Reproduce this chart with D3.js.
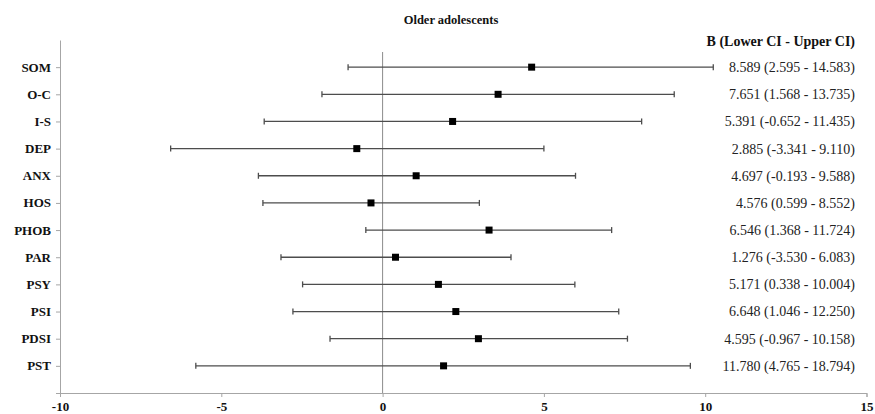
<!DOCTYPE html>
<html><head><meta charset="utf-8">
<script src="https://cdn.jsdelivr.net/npm/d3@7"></script>
<style>body{margin:0;background:#fff}svg{display:block}text{font-family:"Liberation Serif","Times New Roman",serif}</style>
</head><body><svg id="c" width="875" height="414"></svg>
<script>
const title = "Older adolescents";
const tableHeader = "B (Lower CI - Upper CI)";
const categories = ["SOM","O-C","I-S","DEP","ANX","HOS","PHOB","PAR","PSY","PSI","PDSI","PST"];
const estimates = [4.62, 3.58, 2.17, -0.80, 1.04, -0.36, 3.30, 0.40, 1.73, 2.27, 2.97, 1.89];
const lowerCI = [-1.07, -1.88, -3.67, -6.57, -3.85, -3.71, -0.52, -3.15, -2.48, -2.78, -1.63, -5.79];
const upperCI = [10.25, 9.04, 8.03, 5.00, 5.98, 3.00, 7.10, 3.98, 5.96, 7.32, 7.59, 9.54];
const tableText = ["8.589 (2.595 - 14.583)","7.651 (1.568 - 13.735)","5.391 (-0.652 - 11.435)","2.885 (-3.341 - 9.110)","4.697 (-0.193 - 9.588)","4.576 (0.599 - 8.552)","6.546 (1.368 - 11.724)","1.276 (-3.530 - 6.083)","5.171 (0.338 - 10.004)","6.648 (1.046 - 12.250)","4.595 (-0.967 - 10.158)","11.780 (4.765 - 18.794)"];
const xTicks = [-10, -5, 0, 5, 10, 15];

const svg = d3.select("#c");
const x = d3.scaleLinear().domain([-10, 15]).range([60, 866.5]);
// rows: position 1..12 from top within 0..13
const y = d3.scaleLinear().domain([0, 13]).range([40, 393]);
const rowY = i => y(i + 1);

// title
svg.append("text").attr("x", 451).attr("y", 24).attr("text-anchor", "middle")
  .attr("font-weight", "bold").attr("font-size", 12.5).attr("fill", "#111").text(title);
svg.append("text").attr("x", 855).attr("y", 46).attr("text-anchor", "end")
  .attr("font-weight", "bold").attr("font-size", 14).attr("fill", "#111").text(tableHeader);

// x axis
const xAxis = svg.append("g").attr("transform", "translate(0,393)")
  .call(d3.axisBottom(x).tickValues(xTicks).tickSize(4).tickPadding(5).tickFormat(d3.format("d")));
xAxis.select(".domain").attr("stroke", "#a6a6a6");
xAxis.selectAll(".tick line").attr("stroke", "#a6a6a6");
xAxis.selectAll(".tick text").attr("font-family", "Liberation Serif, serif").attr("font-weight", "bold")
  .attr("font-size", 13).attr("fill", "#111").attr("y", 18).attr("dy", 0)
  .text(d => d < 0 ? "-" + Math.abs(d) : d);

// y axis
const yAxis = svg.append("g").attr("transform", "translate(60,0)")
  .call(d3.axisLeft(y).tickValues(d3.range(1, 14)).tickSize(4).tickSizeOuter(0).tickFormat(""));
yAxis.select(".domain").attr("stroke", "#a6a6a6");
yAxis.selectAll(".tick line").attr("stroke", "#a6a6a6");

// category labels
svg.append("g").selectAll("text").data(categories).join("text")
  .attr("x", 51).attr("y", (d, i) => rowY(i)).attr("dy", "0.35em").attr("text-anchor", "end")
  .attr("font-weight", "bold").attr("font-size", 13).attr("fill", "#111").text(d => d);

// zero line
svg.append("line").attr("x1", x(0)).attr("x2", x(0)).attr("y1", 52).attr("y2", 393)
  .attr("stroke", "#8c8c8c").attr("stroke-width", 1);

// error bars
const g = svg.append("g");
categories.forEach((c, i) => {
  const yy = rowY(i);
  g.append("line").attr("x1", x(lowerCI[i])).attr("x2", x(upperCI[i])).attr("y1", yy).attr("y2", yy)
    .attr("stroke", "#4d4d4d").attr("stroke-width", 1.3);
  [lowerCI[i], upperCI[i]].forEach(v => {
    g.append("line").attr("x1", x(v)).attr("x2", x(v)).attr("y1", yy - 3).attr("y2", yy + 3)
      .attr("stroke", "#4d4d4d").attr("stroke-width", 1.3);
  });
  g.append("rect").attr("x", x(estimates[i]) - 3.5).attr("y", yy - 3.5).attr("width", 7).attr("height", 7)
    .attr("fill", "#000");
});

// table text
svg.append("g").selectAll("text").data(tableText).join("text")
  .attr("x", 855).attr("y", (d, i) => rowY(i)).attr("dy", "0.35em").attr("text-anchor", "end")
  .attr("font-size", 14).attr("fill", "#222").text(d => d);
</script></body></html>
